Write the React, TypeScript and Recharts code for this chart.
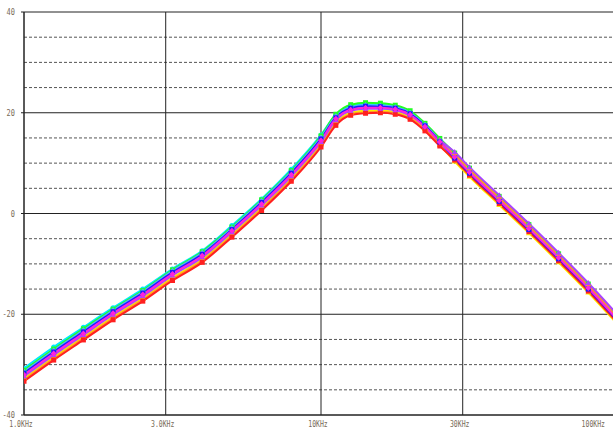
import { LineChart, Line, XAxis, YAxis, CartesianGrid } from "recharts"

// frequency points (Hz)
const freqs = [1000, 1259, 1585, 1995, 2512, 3162, 3981, 5012, 6310, 7943, 10000, 11220, 12589, 14125, 15849, 17783, 19953, 22387, 25119, 28184, 31623, 39811, 50119, 63096, 79433, 100000]

// gain traces (dB), one per run
const runCyan = [-30.7, -26.5, -22.6, -18.7, -15.0, -11.0, -7.4, -2.4, 2.9, 8.8, 15.6, 19.6, 21.3, 21.7, 21.6, 21.2, 20.1, 17.7, 14.4, 10.8, 7.8, 2.2, -3.4, -9.2, -15.2, -21.6]
const runGreen = [-31.1, -26.9, -22.9, -19.0, -15.3, -11.2, -7.6, -2.7, 2.7, 8.5, 15.4, 19.7, 21.6, 22.0, 21.9, 21.5, 20.4, 17.9, 14.9, 12.0, 9.0, 3.4, -2.2, -8.0, -14.0, -20.4]
const runSky = [-31.4, -27.2, -23.2, -19.2, -15.5, -11.4, -7.8, -2.9, 2.5, 8.3, 15.1, 19.3, 21.1, 21.5, 21.4, 21.1, 20.0, 17.6, 14.5, 11.4, 8.4, 2.8, -2.8, -8.6, -14.6, -21.0]
const runYellow = [-32.7, -28.5, -24.5, -20.5, -16.8, -12.7, -9.1, -4.1, 1.2, 7.0, 13.8, 18.1, 20.0, 20.4, 20.4, 20.2, 19.1, 16.8, 13.6, 10.3, 7.3, 1.7, -3.9, -9.7, -15.7, -22.1]
const runOrange = [-33.0, -28.8, -24.8, -20.8, -17.1, -13.0, -9.4, -4.4, 0.9, 6.7, 13.5, 17.8, 19.7, 20.1, 20.2, 19.9, 18.9, 16.8, 14.0, 11.7, 8.7, 3.1, -2.5, -8.3, -14.3, -20.7]
const runRed = [-33.3, -29.1, -25.1, -21.1, -17.4, -13.3, -9.7, -4.7, 0.6, 6.4, 13.2, 17.5, 19.5, 19.9, 20.0, 19.7, 18.7, 16.4, 13.4, 10.6, 7.6, 2.0, -3.6, -9.4, -15.4, -21.8]
const runPurple = [-32.3, -28.1, -24.1, -20.1, -16.4, -12.3, -8.7, -3.7, 1.6, 7.4, 14.2, 18.5, 20.4, 20.8, 20.8, 20.5, 19.5, 17.3, 14.6, 12.2, 9.2, 3.6, -2.0, -7.8, -13.8, -20.2]
const runBlue = [-31.7, -27.5, -23.5, -19.5, -15.8, -11.7, -8.1, -3.2, 2.2, 8.0, 14.8, 19.0, 20.9, 21.3, 21.2, 20.9, 19.8, 17.4, 14.2, 11.0, 8.0, 2.4, -3.2, -9.0, -15.0, -21.4]
const runMagenta = [-32.0, -27.8, -23.8, -19.8, -16.1, -12.0, -8.4, -3.4, 1.9, 7.7, 14.5, 18.8, 20.6, 21.0, 21.0, 20.7, 19.6, 17.2, 14.2, 11.2, 8.2, 2.6, -3.0, -8.8, -14.8, -21.2]

const xTicks = [1000, 3000, 10000, 30000, 100000]
const xLabels = ["1.0KHz", "3.0KHz", "10KHz", "30KHz", "100KHz"]
const yTicks = [-40, -20, 0, 20, 40]
const yMinor = [-35, -30, -25, -15, -10, -5, 5, 10, 15, 25, 30, 35]

const runs = [
  { key: "cyan", values: runCyan, color: "#00e8ff", shape: "circle" },
  { key: "green", values: runGreen, color: "#22ff22", shape: "square" },
  { key: "sky", values: runSky, color: "#55aaff", shape: "diamond" },
  { key: "yellow", values: runYellow, color: "#ffee00", shape: "triangle" },
  { key: "orange", values: runOrange, color: "#ff9922", shape: "circle" },
  { key: "red", values: runRed, color: "#ff2020", shape: "square" },
  { key: "purple", values: runPurple, color: "#aa44ff", shape: "triangle" },
  { key: "blue", values: runBlue, color: "#1a1aff", shape: "square" },
  { key: "magenta", values: runMagenta, color: "#ff22dd", shape: "diamond" },
]

const data = freqs.map((f, i) => {
  const row: Record<string, number> = { f }
  runs.forEach(r => { row[r.key] = r.values[i] })
  return row
})

const LABEL = "#786b58"

const Marker = (props: any, color: string, shape: string) => {
  const { cx, cy, index } = props
  const k = `${shape}-${color}-${index}`
  if (cx == null || cy == null) return <g key={k} />
  if (shape === "square") return <rect key={k} x={cx - 2.5} y={cy - 2.5} width={5} height={5} fill={color} />
  if (shape === "diamond") return <path key={k} d={`M${cx},${cy - 3}L${cx + 3},${cy}L${cx},${cy + 3}L${cx - 3},${cy}Z`} fill={color} />
  if (shape === "triangle") return <path key={k} d={`M${cx},${cy - 3}L${cx + 3},${cy + 2}L${cx - 3},${cy + 2}Z`} fill={color} />
  return <circle key={k} cx={cx} cy={cy} r={2.5} fill={color} />
}

const XTick = ({ x, index }: any) => {
  const label = xLabels[index]
  let cx = x - 3
  const w = label.length * 3.9
  if (cx + w / 2 > 605) cx = 605 - w / 2
  if (cx - w / 2 < 6) cx = 6 + w / 2
  return (
    <text x={cx} y={427} textAnchor="middle" fontSize={8} fontFamily="DejaVu Sans Mono" fill={LABEL}
      textLength={w} lengthAdjust="spacingAndGlyphs">{label}</text>
  )
}

const YTick = ({ x, y, payload }: any) => {
  const label = String(payload.value)
  return (
    <text x={x - 4} y={y + 3} textAnchor="end" fontSize={8} fontFamily="DejaVu Sans Mono" fill={LABEL}
      textLength={label.length * 4.2} lengthAdjust="spacingAndGlyphs">{label}</text>
  )
}

export default function App() {
  return (
    <div style={{ position: "absolute", left: 0, top: 0, width: 613, height: 430, background: "#fff" }}>
      <LineChart width={613} height={430} data={data} margin={{ top: 12, right: -5, left: 0, bottom: 0 }}>
        <CartesianGrid vertical={false} horizontalValues={yMinor} stroke="#555" strokeDasharray="3 2" />
        <CartesianGrid horizontalValues={yTicks} verticalValues={xTicks} stroke="#222" />
        <XAxis dataKey="f" type="number" scale="log" domain={[1000, 100000]} ticks={xTicks}
          tickLine={false} axisLine={{ stroke: "#222" }} height={15} tick={<XTick />} interval={0} allowDataOverflow />
        <YAxis type="number" domain={[-40, 40]} ticks={yTicks} width={24} tickSize={3}
          tickLine={{ stroke: "#222" }} axisLine={{ stroke: "#222" }} tick={<YTick />} interval={0} allowDataOverflow />
        {runs.map(r => (
          <Line key={r.key} dataKey={r.key} type="monotone" stroke={r.color} strokeWidth={2}
            dot={(p: any) => Marker(p, r.color, r.shape)} activeDot={false} isAnimationActive={false} />
        ))}
      </LineChart>
    </div>
  )
}
